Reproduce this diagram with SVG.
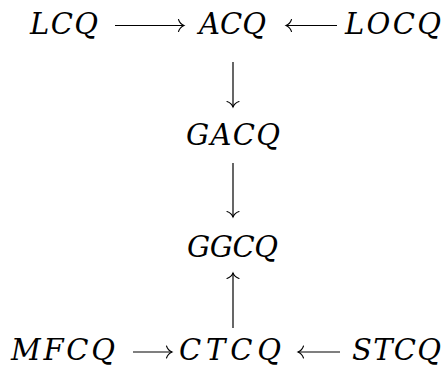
<svg xmlns="http://www.w3.org/2000/svg" width="445" height="369" viewBox="0 0 445 369">
  <defs>
    <marker id="to" markerUnits="userSpaceOnUse" viewBox="-7 -7 9 14" refX="0" refY="0" markerWidth="9" markerHeight="14" orient="auto">
      <path d="M -5.5,-6 C -4.5,-3 -2.5,-1 0,0 C -2.5,1 -4.5,3 -5.5,6" stroke="#000" stroke-width="1.1" fill="none" stroke-linecap="round"/>
    </marker>
  </defs>

  <rect width="445" height="369" fill="#fff"/>

  <!-- nodes: italic serif labels -->
  <g font-family="DejaVu Serif, serif" font-style="italic" font-size="29" fill="#000">
    <g id="LCQ"><text x="30" y="34" textLength="68" lengthAdjust="spacing">LCQ</text></g>
    <g id="ACQ"><text x="199" y="34" textLength="67" lengthAdjust="spacing">ACQ</text></g>
    <g id="LOCQ"><text x="345" y="34" textLength="96" lengthAdjust="spacing">LOCQ</text></g>
    <g id="GACQ"><text x="186" y="145" textLength="94" lengthAdjust="spacing">GACQ</text></g>
    <g id="GGCQ"><text x="187" y="257" textLength="91" lengthAdjust="spacing">GGCQ</text></g>
    <g id="MFCQ"><text x="11" y="360" textLength="104" lengthAdjust="spacing">MFCQ</text></g>
    <g id="CTCQ"><text x="179" y="360" textLength="102" lengthAdjust="spacing">CTCQ</text></g>
    <g id="STCQ"><text x="352" y="360" textLength="89" lengthAdjust="spacing">STCQ</text></g>
  </g>

  <!-- connectors -->
  <g id="edges" stroke="#000" stroke-width="1.2" fill="none" marker-end="url(#to)">
    <line x1="115" y1="25.5" x2="184" y2="25.5"/>
    <line x1="337" y1="25.5" x2="286" y2="25.5"/>
    <line x1="233" y1="62" x2="233" y2="107"/>
    <line x1="233" y1="163" x2="233" y2="217"/>
    <line x1="233" y1="328" x2="233" y2="273"/>
    <line x1="133" y1="352" x2="172" y2="352"/>
    <line x1="340" y1="352" x2="298" y2="352"/>
  </g>
</svg>
